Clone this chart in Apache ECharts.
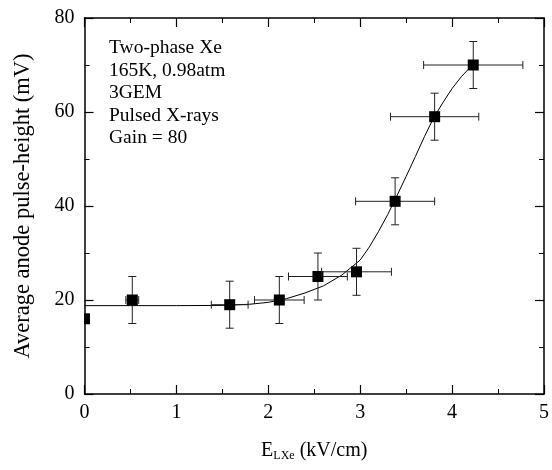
<!DOCTYPE html>
<html>
<head>
<meta charset="utf-8">
<script src="https://cdn.jsdelivr.net/npm/echarts@6/dist/echarts.min.js"></script>
<style>
  html, body { margin: 0; padding: 0; background: #fff; }
  #chart { width: 552px; height: 470px; }
</style>
</head>
<body>
<div id="chart"></div>
<script>
// measured points (x = field in LXe, y = pulse height)
const xVals = [0, 0.52, 1.58, 2.12, 2.54, 2.96, 3.38, 3.81, 4.23];
const yVals = [16, 20, 19, 20, 25, 26, 41, 59, 70];
const xErr  = [0, 0.07, 0.2, 0.27, 0.32, 0.38, 0.43, 0.48, 0.54];
const yErr  = [0, 5, 5, 5, 5, 5, 5, 5, 5];

// fitted curve
const fitX = [0, 0.5, 1, 1.5, 1.8, 2.0, 2.2, 2.4, 2.6, 2.8, 3.0, 3.1, 3.2, 3.3, 3.4, 3.5, 3.6, 3.7, 3.8, 3.9, 4.0, 4.1, 4.23];
const fitY = [18.8, 18.8, 18.8, 18.85, 19.1, 19.5, 20.3, 21.5, 23.0, 25.3, 28.5, 31.3, 34.6, 38.2, 42.2, 46.3, 50.5, 54.8, 58.8, 62.0, 65.0, 67.5, 70.2];

const notes = ['Two-phase Xe', '165K, 0.98atm', '3GEM', 'Pulsed X-rays', 'Gain = 80'];

const FONT = '"Liberation Serif", "Times New Roman", serif';

const pts = xVals.map((x, i) => [x, yVals[i], xErr[i], yErr[i]]);
const fit = fitX.map((x, i) => [x, fitY[i]]);

const chart = echarts.init(document.getElementById('chart'), null, { renderer: 'canvas' });

function errBar(params, api) {
  const x = api.value(0), y = api.value(1), dx = api.value(2), dy = api.value(3);
  const c = api.coord([x, y]);
  const cap = 4;
  const style = { stroke: '#222', lineWidth: 1 };
  const kids = [];
  if (dy > 0) {
    const top = api.coord([x, y + dy]), bot = api.coord([x, y - dy]);
    kids.push({ type: 'line', shape: { x1: c[0], y1: top[1], x2: c[0], y2: bot[1] }, style });
    kids.push({ type: 'line', shape: { x1: c[0] - cap, y1: top[1], x2: c[0] + cap, y2: top[1] }, style });
    kids.push({ type: 'line', shape: { x1: c[0] - cap, y1: bot[1], x2: c[0] + cap, y2: bot[1] }, style });
  }
  if (dx > 0) {
    const l = api.coord([x - dx, y]), r = api.coord([x + dx, y]);
    kids.push({ type: 'line', shape: { x1: l[0], y1: c[1], x2: r[0], y2: c[1] }, style });
    kids.push({ type: 'line', shape: { x1: l[0], y1: c[1] - cap, x2: l[0], y2: c[1] + cap }, style });
    kids.push({ type: 'line', shape: { x1: r[0], y1: c[1] - cap, x2: r[0], y2: c[1] + cap }, style });
  }
  kids.push({ type: 'rect', shape: { x: c[0] - 5.5, y: c[1] - 5.5, width: 11, height: 11 }, style: { fill: '#000' } });
  return { type: 'group', children: kids };
}

const axisCommon = {
  axisLine: { show: true, onZero: false, lineStyle: { color: '#000', width: 1.5 } },
  axisTick: { show: true, inside: true, length: 9, lineStyle: { color: '#000', width: 1.2 } },
  minorTick: { show: true, splitNumber: 2, length: 5, lineStyle: { color: '#000', width: 1 } },
  splitLine: { show: false },
};

chart.setOption({
  backgroundColor: '#fff',
  animation: false,
  grid: { left: 84.5, right: 5, top: 18, bottom: 76 },
  xAxis: [
    Object.assign({
      type: 'value', min: 0, max: 5, interval: 1, position: 'bottom',
      axisLabel: { color: '#000', fontFamily: FONT, fontSize: 20, margin: 9 },
      name: '{e|E}{s|LXe}{e| (kV/cm)}',
      nameLocation: 'middle', nameGap: 46,
      nameTextStyle: {
        color: '#000', fontFamily: FONT, fontSize: 20,
        rich: {
          e: { fontFamily: FONT, fontSize: 20, color: '#000' },
          s: { fontFamily: FONT, fontSize: 12, color: '#000', padding: [10, 0, 0, 0] }
        }
      }
    }, axisCommon),
    Object.assign({
      type: 'value', min: 0, max: 5, interval: 1, position: 'top',
      axisLabel: { show: false }
    }, axisCommon)
  ],
  yAxis: [
    Object.assign({
      type: 'value', min: 0, max: 80, interval: 20, position: 'left',
      axisLabel: { color: '#000', fontFamily: FONT, fontSize: 20, margin: 10 },
      name: 'Average anode pulse-height (mV)',
      nameLocation: 'middle', nameGap: 50, nameRotate: 90,
      nameTextStyle: { color: '#000', fontFamily: FONT, fontSize: 22.5 }
    }, axisCommon),
    Object.assign({
      type: 'value', min: 0, max: 80, interval: 20, position: 'right',
      axisLabel: { show: false }
    }, axisCommon)
  ],
  graphic: [{
    type: 'text', left: 109, top: 37,
    style: {
      text: notes.join('\n'),
      font: '19.5px ' + FONT,
      lineHeight: 22.5,
      fill: '#000'
    }
  }],
  series: [
    {
      type: 'line', data: fit, showSymbol: false, symbol: 'none',
      lineStyle: { color: '#000', width: 1 }, z: 2
    },
    {
      type: 'custom', data: pts, renderItem: errBar, clip: true, z: 3,
      encode: { x: 0, y: 1 }
    }
  ]
});
</script>
</body>
</html>
